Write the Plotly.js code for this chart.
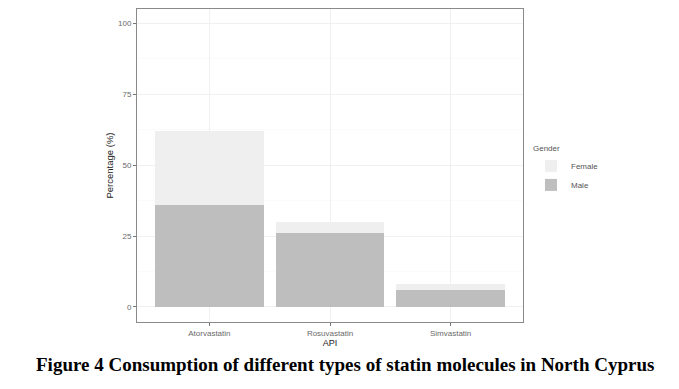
<!DOCTYPE html>
<html><head><meta charset="utf-8">
<script src="https://cdn.plot.ly/plotly-3.0.1.min.js"></script>
<style>html,body{margin:0;padding:0;background:#fff}</style>
</head><body><div id="chart" style="width:679px;height:389px"></div>
<script>
const categories = ["Atorvastatin", "Rosuvastatin", "Simvastatin"];
const maleValues = [36, 26, 6];
const femaleValues = [26, 4, 2];
const yTicks = [0, 25, 50, 75, 100];
const captionText = "Figure 4 Consumption of different types of statin molecules in North Cyprus";

const W = 679, H = 389;
const data = [
  {type: "bar", name: "Male", x: categories, y: maleValues, width: 0.9,
   marker: {color: "#bebebe", line: {width: 0}}, hoverinfo: "skip"},
  {type: "bar", name: "Female", x: categories, y: femaleValues, width: 0.9,
   marker: {color: "#efefef", line: {width: 0}}, hoverinfo: "skip"}
];
const layout = {
  width: W, height: H,
  margin: {l: 0, r: 0, t: 0, b: 0},
  paper_bgcolor: "#ffffff", plot_bgcolor: "#ffffff",
  barmode: "stack", bargap: 0.1,
  font: {family: "Liberation Sans, Arial, sans-serif", color: "#555"},
  xaxis: {
    domain: [137 / W, 523 / W], range: [-0.6, 2.6],
    type: "category",
    showline: true, mirror: true, linecolor: "#8a8a8a", linewidth: 1,
    showgrid: true, gridcolor: "#f0f0f0", gridwidth: 1,
    ticks: "outside", ticklen: 3, tickcolor: "#777", tickwidth: 1,
    tickfont: {size: 8, color: "#6a6a6a"},
    title: {text: "API", font: {size: 9, color: "#222"}, standoff: 0},
    zeroline: false, fixedrange: true
  },
  yaxis: {
    domain: [1 - 322 / H, 1 - 9 / H], range: [-5.3, 105],
    tickvals: yTicks, ticktext: yTicks.map(String),
    showline: true, mirror: true, linecolor: "#8a8a8a", linewidth: 1,
    showgrid: true, gridcolor: "#f0f0f0", gridwidth: 1,
    minor: {dtick: 12.5, showgrid: true, gridcolor: "#f7f7f7", gridwidth: 0.5, tick0: 12.5},
    ticks: "outside", ticklen: 3, tickcolor: "#777", tickwidth: 1,
    tickfont: {size: 8, color: "#6a6a6a"},
    title: {text: "Percentage (%)", font: {size: 9.5, color: "#222"}, standoff: 2},
    zeroline: false, fixedrange: true
  },
  showlegend: true,
  legend: {
    x: 531 / W, y: 1 - 141 / H, xanchor: "left", yanchor: "top",
    traceorder: "reversed",
    title: {text: "Gender", font: {size: 8, color: "#555"}},
    font: {size: 8, color: "#555"},
    bgcolor: "rgba(0,0,0,0)", itemwidth: 30, tracegroupgap: 0
  },
  annotations: [{
    text: "<b>" + captionText + "</b>",
    xref: "paper", yref: "paper", x: 345 / W, y: 1 - 364 / H,
    xanchor: "center", yanchor: "middle", showarrow: false,
    font: {family: "Liberation Serif, Times New Roman, serif", size: 19, color: "#000"}
  }]
};
Plotly.newPlot("chart", data, layout, {staticPlot: true, displayModeBar: false});
</script></body></html>
